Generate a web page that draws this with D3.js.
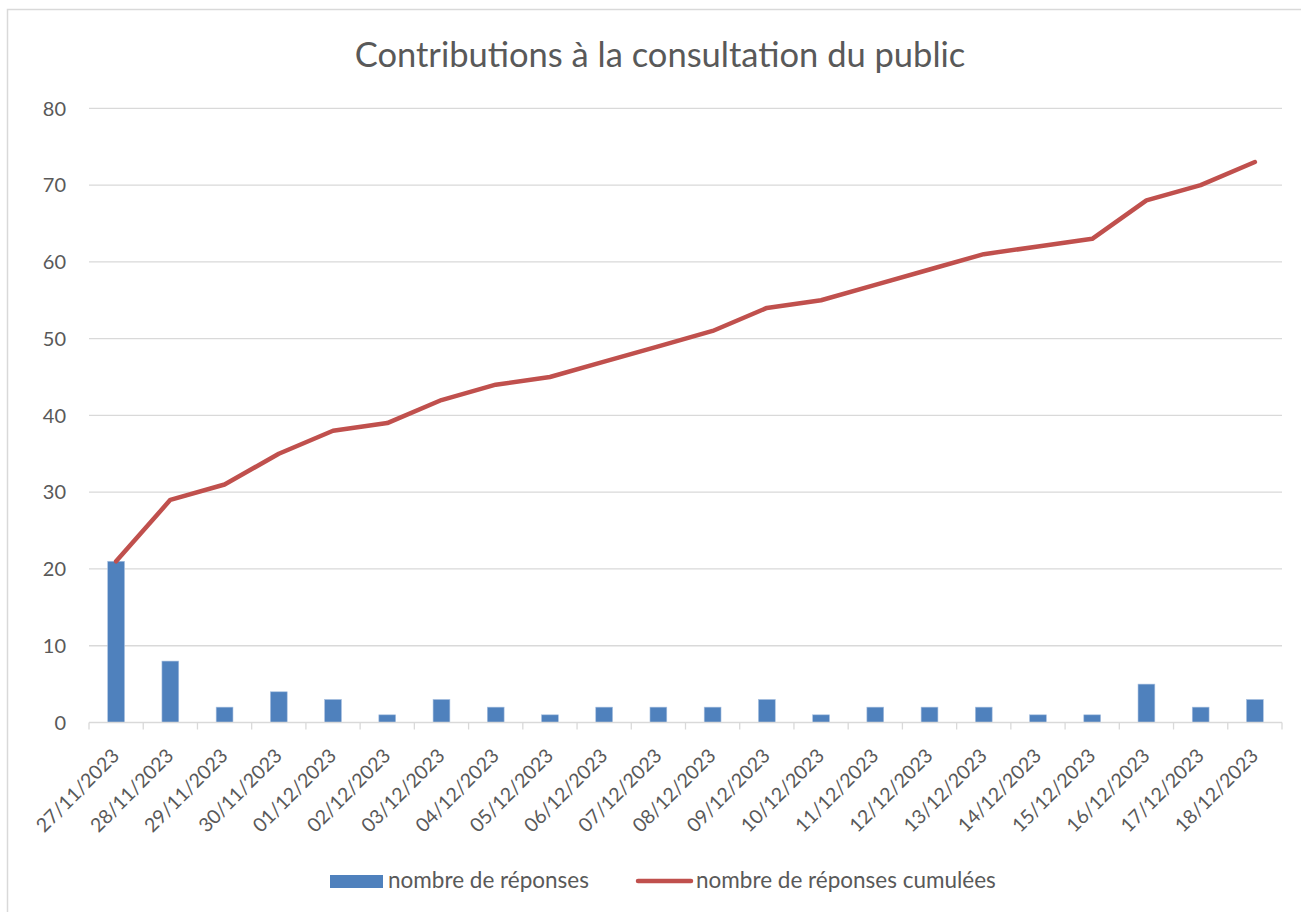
<!DOCTYPE html>
<html><head><meta charset="utf-8">
<script src="https://cdn.jsdelivr.net/npm/d3@7"></script>
<style>
html,body{margin:0;padding:0;background:#fff;}
text{font-family:Lato,"Open Sans",sans-serif;fill:#595959;}
</style></head>
<body><svg id="c" width="1301" height="912"></svg>
<script>
const title = "Contributions à la consultation du public";
const dates = ["27/11/2023","28/11/2023","29/11/2023","30/11/2023","01/12/2023","02/12/2023","03/12/2023","04/12/2023","05/12/2023","06/12/2023","07/12/2023","08/12/2023","09/12/2023","10/12/2023","11/12/2023","12/12/2023","13/12/2023","14/12/2023","15/12/2023","16/12/2023","17/12/2023","18/12/2023"];
const responses = [21,8,2,4,3,1,3,2,1,2,2,2,3,1,2,2,2,1,1,5,2,3];
const cumulative = [21,29,31,35,38,39,42,44,45,47,49,51,54,55,57,59,61,62,63,68,70,73];
const yTicks = [0,10,20,30,40,50,60,70,80];
const seriesNames = ["nombre de réponses","nombre de réponses cumulées"];

const svg = d3.select("#c");
const L = 89, R = 1282, T = 108.3, B = 722.5;
const x = d3.scaleBand().domain(dates).range([L, R]).paddingInner(0.69).paddingOuter(0.345);
const xc = d => x(d) + x.bandwidth()/2;
const y = d3.scaleLinear().domain([0, 80]).range([B, T]);

// border
svg.append("rect").attr("x",7.5).attr("y",9.5).attr("width",1300).attr("height",910)
  .attr("fill","none").attr("stroke","#d9d9d9").attr("stroke-width",1.5);

// title
svg.append("text").attr("x",660).attr("y",67).attr("text-anchor","middle")
  .style("font-size","34.5px").text(title);

// gridlines
svg.append("g").selectAll("line").data(yTicks.filter(v=>v>0)).join("line")
  .attr("x1",L).attr("x2",R).attr("y1",d=>y(d)).attr("y2",d=>y(d))
  .attr("stroke","#d9d9d9").attr("stroke-width",1.3);

// y labels
svg.append("g").selectAll("text").data(yTicks).join("text")
  .attr("x",66).attr("y",d=>y(d)).attr("dy","0.36em").attr("text-anchor","end")
  .style("font-size","20px").text(d=>d);

// bars
svg.append("g").selectAll("rect").data(dates).join("rect")
  .attr("x",d=>x(d)).attr("width",x.bandwidth())
  .attr("y",(d,i)=>y(responses[i])).attr("height",(d,i)=>B-y(responses[i]))
  .attr("fill","#4f81bd").attr("stroke","#a8c0e0").attr("stroke-width",0.6);

// x axis
const step = x.step();
svg.append("line").attr("x1",L).attr("x2",R).attr("y1",B).attr("y2",B)
  .attr("stroke","#d9d9d9").attr("stroke-width",1.3);
const bounds = d3.range(dates.length+1).map(i => L + i*step);
svg.append("g").selectAll("line").data(bounds).join("line")
  .attr("x1",d=>d).attr("x2",d=>d).attr("y1",B).attr("y2",B+7)
  .attr("stroke","#d9d9d9").attr("stroke-width",1.3);

// x labels
svg.append("g").selectAll("text").data(dates).join("text")
  .attr("transform",d=>`translate(${xc(d)+4.5},${B+34.5}) rotate(-45)`)
  .attr("text-anchor","end")
  .style("font-size","19.5px").text(d=>d);

// line
const line = d3.line().x((d,i)=>xc(dates[i])).y(d=>y(d));
svg.append("path").datum(cumulative).attr("d",line).attr("fill","none")
  .attr("stroke","#c0504d").attr("stroke-width",4.5).attr("stroke-linecap","round").attr("stroke-linejoin","round");

// legend
svg.append("rect").attr("x",330).attr("y",875).attr("width",53).attr("height",13).attr("fill","#4f81bd");
svg.append("text").attr("x",388).attr("y",888).style("font-size","22.5px").text(seriesNames[0]);
svg.append("line").attr("x1",638).attr("x2",691).attr("y1",881).attr("y2",881)
  .attr("stroke","#c0504d").attr("stroke-width",4.5).attr("stroke-linecap","round");
svg.append("text").attr("x",696).attr("y",888).style("font-size","22.5px").text(seriesNames[1]);
</script></body></html>
